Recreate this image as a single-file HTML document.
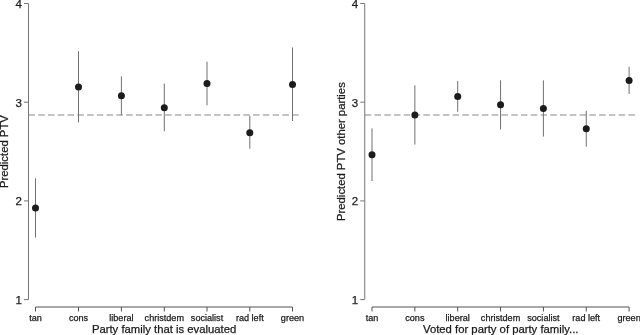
<!DOCTYPE html>
<html lang="en">
<head>
<meta charset="utf-8">
<title>Predicted PTV by party family</title>
<style>
html,body{margin:0;padding:0;background:#fff;}
body{width:640px;height:335px;overflow:hidden;font-family:"Liberation Sans",sans-serif;}
svg{display:block;}
</style>
</head>
<body>
<svg width="640" height="335" viewBox="0 0 640 335" font-family="'Liberation Sans', sans-serif" fill="#1a1a1a" stroke="#1a1a1a" stroke-width="0">
<rect width="640" height="335" fill="#ffffff"/>
<line x1="28.5" y1="115" x2="299" y2="115" stroke="#b0b0b0" stroke-width="1.6" stroke-dasharray="6.5 3.265"/>
<path d="M24.0 3.5H28.5V299.6H24.0M24.0 102.2H28.5M24.0 200.9H28.5" fill="none" stroke="#767676" stroke-width="1"/>
<path d="M35.5 311.5V307H292.5V311.5M78.5 307V311.5M121.4 307V311.5M164.3 307V311.5M207.0 307V311.5M249.8 307V311.5" fill="none" stroke="#525252" stroke-width="1"/>
<line x1="35.5" y1="178.3" x2="35.5" y2="237.6" stroke="#707070" stroke-width="1"/>
<line x1="78.5" y1="51.3" x2="78.5" y2="122.3" stroke="#707070" stroke-width="1"/>
<line x1="121.4" y1="76.4" x2="121.4" y2="115.2" stroke="#707070" stroke-width="1"/>
<line x1="164.3" y1="83.6" x2="164.3" y2="131.3" stroke="#707070" stroke-width="1"/>
<line x1="207.0" y1="61.7" x2="207.0" y2="105.3" stroke="#707070" stroke-width="1"/>
<line x1="249.8" y1="115.6" x2="249.8" y2="148.75" stroke="#707070" stroke-width="1"/>
<line x1="292.5" y1="47.5" x2="292.5" y2="121.0" stroke="#707070" stroke-width="1"/>
<circle cx="35.5" cy="208.0" r="3.5" fill="#1c1c1c"/>
<circle cx="78.5" cy="86.9" r="3.5" fill="#1c1c1c"/>
<circle cx="121.4" cy="95.8" r="3.5" fill="#1c1c1c"/>
<circle cx="164.3" cy="107.8" r="3.5" fill="#1c1c1c"/>
<circle cx="207.0" cy="83.5" r="3.5" fill="#1c1c1c"/>
<circle cx="249.8" cy="132.8" r="3.5" fill="#1c1c1c"/>
<circle cx="292.5" cy="84.4" r="3.5" fill="#1c1c1c"/>
<text stroke-width="0.25" x="21.80" y="8" text-anchor="end" font-size="11.5">4</text>
<text stroke-width="0.25" x="21.80" y="107" text-anchor="end" font-size="11.5">3</text>
<text stroke-width="0.25" x="21.80" y="205" text-anchor="end" font-size="11.5">2</text>
<text stroke-width="0.25" x="21.80" y="304" text-anchor="end" font-size="11.5">1</text>
<text stroke-width="0.25" x="35.50" y="320.75" text-anchor="middle" font-size="9.1">tan</text>
<text stroke-width="0.25" x="78.50" y="320.75" text-anchor="middle" font-size="9.1">cons</text>
<text stroke-width="0.25" x="121.40" y="320.75" text-anchor="middle" font-size="9.1">liberal</text>
<text stroke-width="0.25" x="164.30" y="320.75" text-anchor="middle" font-size="9.1">christdem</text>
<text stroke-width="0.25" x="207.00" y="320.75" text-anchor="middle" font-size="9.1">socialist</text>
<text stroke-width="0.25" x="249.80" y="320.75" text-anchor="middle" font-size="9.1">rad left</text>
<text stroke-width="0.25" x="292.50" y="320.75" text-anchor="middle" font-size="9.1">green</text>
<text stroke-width="0.25" x="164.1" y="332.5" text-anchor="middle" font-size="11.3">Party family that is evaluated</text>
<text stroke-width="0.25" transform="translate(8.2 151.6) rotate(-90)" text-anchor="middle" font-size="11.3">Predicted PTV</text>
<line x1="364.75" y1="115" x2="635.6" y2="115" stroke="#b0b0b0" stroke-width="1.6" stroke-dasharray="6.5 3.265"/>
<path d="M360.25 3.5H364.75V299.6H360.25M360.25 102.2H364.75M360.25 200.9H364.75" fill="none" stroke="#767676" stroke-width="1"/>
<path d="M372.0 311.5V307H629.1V311.5M414.85 307V311.5M457.7 307V311.5M500.55 307V311.5M543.4 307V311.5M586.25 307V311.5" fill="none" stroke="#525252" stroke-width="1"/>
<line x1="372.0" y1="128.4" x2="372.0" y2="181.0" stroke="#707070" stroke-width="1"/>
<line x1="414.85" y1="85.4" x2="414.85" y2="144.6" stroke="#707070" stroke-width="1"/>
<line x1="457.7" y1="80.9" x2="457.7" y2="111.75" stroke="#707070" stroke-width="1"/>
<line x1="500.55" y1="80.3" x2="500.55" y2="129.4" stroke="#707070" stroke-width="1"/>
<line x1="543.4" y1="80.3" x2="543.4" y2="136.6" stroke="#707070" stroke-width="1"/>
<line x1="586.25" y1="110.75" x2="586.25" y2="146.7" stroke="#707070" stroke-width="1"/>
<line x1="629.1" y1="66.8" x2="629.1" y2="94.0" stroke="#707070" stroke-width="1"/>
<circle cx="372.0" cy="154.7" r="3.5" fill="#1c1c1c"/>
<circle cx="414.85" cy="115.1" r="3.5" fill="#1c1c1c"/>
<circle cx="457.7" cy="96.5" r="3.5" fill="#1c1c1c"/>
<circle cx="500.55" cy="104.8" r="3.5" fill="#1c1c1c"/>
<circle cx="543.4" cy="108.6" r="3.5" fill="#1c1c1c"/>
<circle cx="586.25" cy="128.7" r="3.5" fill="#1c1c1c"/>
<circle cx="629.1" cy="80.4" r="3.5" fill="#1c1c1c"/>
<text stroke-width="0.25" x="358.05" y="8" text-anchor="end" font-size="11.5">4</text>
<text stroke-width="0.25" x="358.05" y="107" text-anchor="end" font-size="11.5">3</text>
<text stroke-width="0.25" x="358.05" y="205" text-anchor="end" font-size="11.5">2</text>
<text stroke-width="0.25" x="358.05" y="304" text-anchor="end" font-size="11.5">1</text>
<text stroke-width="0.25" x="372.00" y="320.75" text-anchor="middle" font-size="9.1">tan</text>
<text stroke-width="0.25" x="414.85" y="320.75" text-anchor="middle" font-size="9.1">cons</text>
<text stroke-width="0.25" x="457.70" y="320.75" text-anchor="middle" font-size="9.1">liberal</text>
<text stroke-width="0.25" x="500.55" y="320.75" text-anchor="middle" font-size="9.1">christdem</text>
<text stroke-width="0.25" x="543.40" y="320.75" text-anchor="middle" font-size="9.1">socialist</text>
<text stroke-width="0.25" x="586.25" y="320.75" text-anchor="middle" font-size="9.1">rad left</text>
<text stroke-width="0.25" x="629.10" y="320.75" text-anchor="middle" font-size="9.1">green</text>
<text stroke-width="0.25" x="500.75" y="332.5" text-anchor="middle" font-size="11.3">Voted for party of party family...</text>
<text stroke-width="0.25" transform="translate(344.8 151.6) rotate(-90)" text-anchor="middle" font-size="11.3">Predicted PTV other parties</text>
</svg>
</body>
</html>
